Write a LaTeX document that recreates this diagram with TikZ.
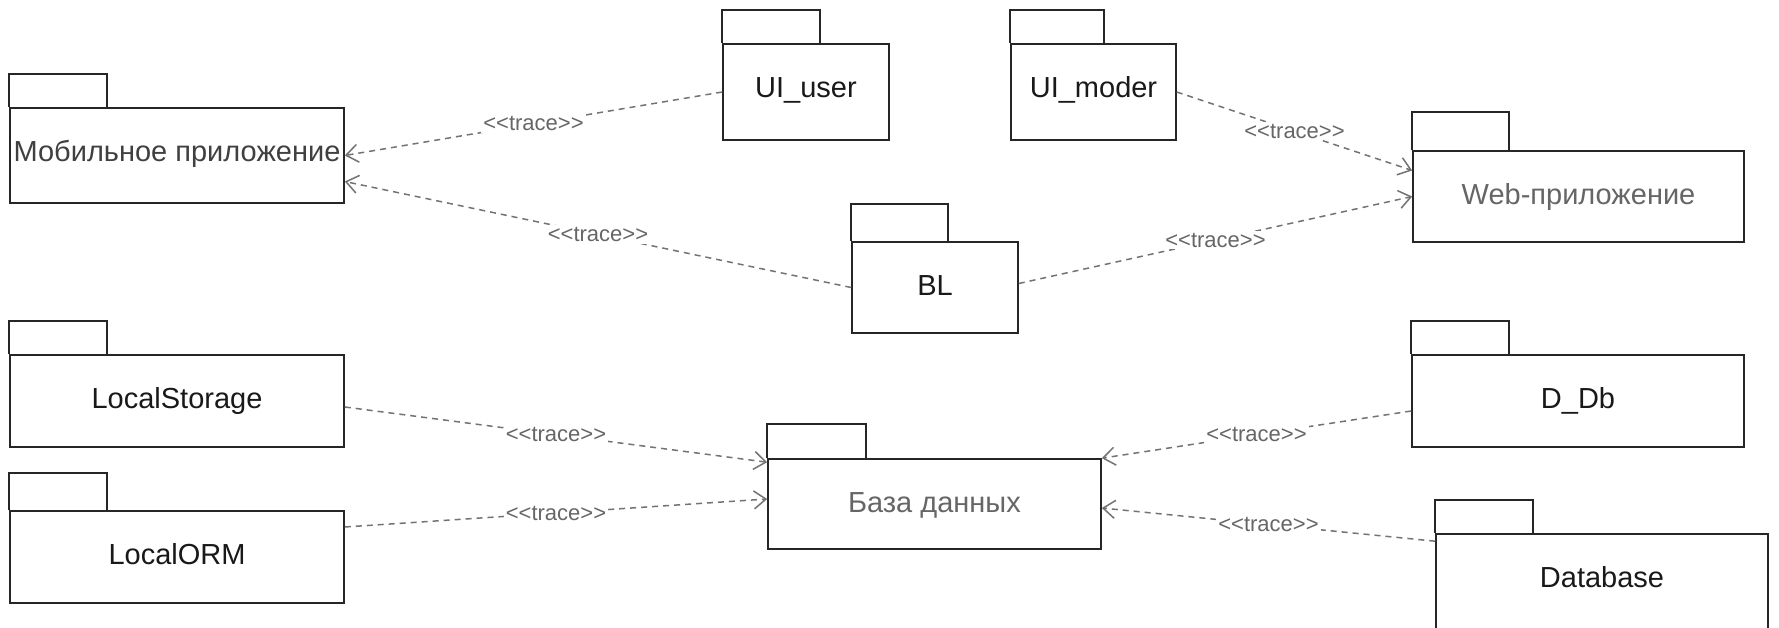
\documentclass[tikz,border=0pt]{standalone}
\usepackage{fontspec}
\setmainfont{Liberation Sans}
\usetikzlibrary{arrows.meta,calc}

\tikzset{
  pkgline/.style={draw=black!85, line width=0.8pt},
  pkgname/.style={anchor=base, inner sep=0pt, font=\fontsize{14.5}{16}\selectfont, text=black!90},
  lightname/.style={text=black!60},
  trace/.style={draw=black!55, line width=0.75pt, dash pattern=on 3pt off 2.5pt,
    -{Straight Barb[length=6pt,width=9pt]}},
  tracelabel/.style={midway, fill=white, inner sep=1pt,
    font=\fontsize{11}{13}\selectfont, text=black!60},
}

% <<trace>> without the guillemet ligature
\newcommand\tracetext{<\kern0pt<trace>\kern0pt>}

% UML package: [name style] {name}{x1}{y1}{x2}{y2}{tab top}{tab right}{text}
\newcommand\umlpkg[9][]{%
  \node[pkgline, rectangle, inner sep=0pt,
        minimum width={(#5-#3)*0.5pt}, minimum height={(#6-#4)*0.5pt}]
        (#2) at ({(#3+#5)/2},{(#4+#6)/2}) {};
  \draw[pkgline] (#2.north west) |- (#8,#7) -- (#8,#4);
  \node[pkgname,#1] (#2-name) at ({(#3+#5)/2},{#4+53}) {#9};
}

\begin{document}
\begin{tikzpicture}[x=0.5pt,y=-0.5pt]
  \useasboundingbox (0,0) rectangle (1779,627);
  \fill[white] (0,0) rectangle (1779,627);
  \clip (0,0) rectangle (1779,627);

  % packages
  \umlpkg[text=black!75]{mob}{10}{108}{344}{203}{74}{107}{Мобильное приложение}
  \umlpkg{uiuser}{723}{44}{889}{140}{10}{820}{UI\_user}
  \umlpkg{uimoder}{1011}{44}{1176}{140}{10}{1104}{UI\_moder}
  \umlpkg[lightname]{web}{1413}{151}{1744}{242}{112}{1509}{Web-приложение}
  \umlpkg{bl}{852}{242}{1018}{333}{204}{948}{BL}
  \umlpkg{ls}{10}{355}{344}{447}{321}{107}{LocalStorage}
  \umlpkg{orm}{10}{511}{344}{603}{473}{107}{LocalORM}
  \umlpkg[lightname]{db}{768}{459}{1101}{549}{424}{866}{База данных}
  \umlpkg{ddb}{1412}{355}{1744}{447}{321}{1509}{D\_Db}
  \umlpkg{database}{1436}{534}{1768}{660}{500}{1533}{Database}

  % trace dependencies
  \draw[trace] (uiuser.west) -- node[tracelabel] {\tracetext} (mob.east);
  \draw[trace] (bl.west) -- node[tracelabel] {\tracetext} ([yshift=-13pt]mob.east);
  \draw[trace] (uimoder.east) -- node[tracelabel] {\tracetext} ([yshift=13pt]web.west);
  \draw[trace] ([yshift=2pt]bl.east) -- node[tracelabel] {\tracetext} (web.west);
  \draw[trace] ([yshift=-3pt]ls.east) -- node[tracelabel] {\tracetext} ([yshift=-2pt]db.north west);
  \draw[trace] ([yshift=15pt]orm.east) -- node[tracelabel] {\tracetext} ([yshift=2.5pt]db.west);
  \draw[trace] ([yshift=-5pt]ddb.west) -- node[tracelabel] {\tracetext} (db.north east);
  \draw[trace] ([yshift=-4pt]database.north west) -- node[tracelabel] {\tracetext} ([yshift=-2pt]db.east);
\end{tikzpicture}
\end{document}
